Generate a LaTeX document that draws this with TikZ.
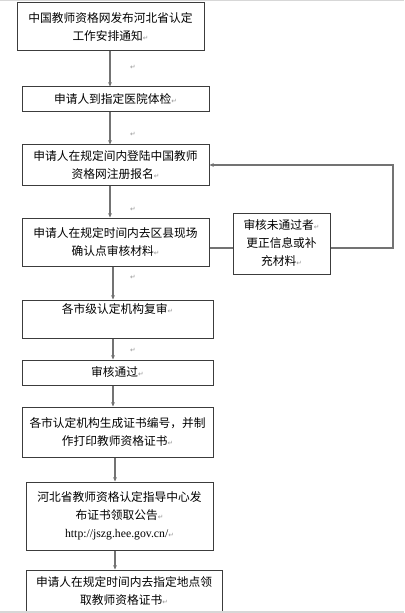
\documentclass[tikz,border=0pt]{standalone}
\usepackage{fontspec}
\setmainfont{Noto Sans CJK SC}
\newfontfamily\urlfont{Liberation Serif}
\newfontfamily\markfont{DejaVu Sans}
\usetikzlibrary{positioning, arrows.meta}
\definecolor{boxgray}  {RGB}{60, 60, 60}
\definecolor{linegray} {RGB}{115, 115, 115}
\definecolor{markgray} {RGB}{150, 150, 150}
\definecolor{edgegray} {RGB}{215, 215, 215}
% Word paragraph mark
\newcommand{\pmark}{{\markfont\fontsize{5pt}{6pt}\selectfont\textcolor{markgray}{↵}}}
\tikzset{
  % Flow step box
  stepbox/.style={
    rectangle, draw=boxgray, line width=0.75pt, inner sep=0pt,
    font=\fontsize{8.8pt}{13.5pt}\selectfont, align=center, text=black
  },
  % Arrow style
  arr/.style={-{Stealth[length=3.2pt, width=2.8pt]}, line width=0.8pt, color=linegray},
  link/.style={line width=0.8pt, color=linegray},
  markbox/.style={inner sep=0pt},
}
\begin{document}
\begin{tikzpicture}[x=0.75pt, y=-0.75pt]
  \useasboundingbox (0,0) rectangle (404,613);
  \fill[white] (0,0) rectangle (404,613);
  % main column
  \node[stepbox, minimum width=140.25pt, minimum height=36pt] (notice) at (110.5,27)
    {中国教师资格网发布河北省认定\\工作安排通知\pmark};
  \node[stepbox, minimum width=140.25pt, minimum height=18.75pt] (exam) at (115.5,99.5)
    {申请人到指定医院体检\pmark};
  \node[stepbox, minimum width=140.25pt, minimum height=30pt] (signup) at (115.5,165)
    {申请人在规定间内登陆中国教师\\资格网注册报名\pmark};
  \node[stepbox, minimum width=140.25pt, minimum height=36pt] (confirm) at (115.5,242)
    {申请人在规定时间内去区县现场\\确认点审核材料\pmark};
  \node[stepbox, minimum width=72.75pt, minimum height=45.75pt] (redo) at (281.5,243.5)
    {审核未通过者\pmark\\更正信息或补\\充材料\pmark};
  \node[stepbox, minimum width=143.25pt, minimum height=28.5pt] (review) at (117.5,319)
    {各市级认定机构复审\pmark\\[2pt]};
  \node[stepbox, minimum width=143.25pt, minimum height=18.75pt] (pass) at (117.5,372.5)
    {审核通过\pmark};
  \node[stepbox, minimum width=143.25pt, minimum height=37.5pt] (print) at (117.5,432)
    {各市认定机构生成证书编号，并制\\作打印教师资格证书\pmark};
  \node[stepbox, minimum width=140.25pt, minimum height=51pt] (notify) at (119.5,516)
    {河北省教师资格认定指导中心发\\布证书领取公告\pmark\\
     {\urlfont\fontsize{8.8pt}{11pt}\selectfont http://jszg.hee.gov.cn/}\pmark};
  \node[stepbox, minimum width=147pt, minimum height=32.25pt] (collect) at (124,591.5)
    {申请人在规定时间内去指定地点领\\取教师资格证书\pmark};
  % stray paragraph marks
  \node[markbox] (m1) at (133,67)  {\pmark};
  \node[markbox] (m2) at (133,134) {\pmark};
  \node[markbox] (m3) at (133,209) {\pmark};
  \node[markbox] (m4) at (133,277) {\pmark};
  \node[markbox] (m5) at (133,350) {\pmark};
  % arrows
  \draw[arr] (110,51)  -- (exam.north -| 110,0);
  \draw[arr] (exam.south -| 110,0)    -- (signup.north -| 110,0);
  \draw[arr] (signup.south -| 110,0)  -- (confirm.north -| 110,0);
  \draw[arr] (confirm.south -| 113,0) -- (review.north -| 113,0);
  \draw[arr] (review.south -| 113,0)  -- (pass.north -| 113,0);
  \draw[arr] (pass.south -| 113,0)    -- (print.north -| 113,0);
  \draw[arr] (print.south -| 115,0)   -- (notify.north -| 115,0);
  \draw[arr] (notify.south -| 115,0)  -- (collect.north -| 115,0);
  % feedback loop
  \coordinate (turn) at (393,248);
  \draw[link] (confirm.east |- turn) -- (redo.west |- turn);
  \draw[arr] (redo.east |- turn) -- (turn) |- (signup.east);
  % page edges
  \fill[edgegray] (0,0) rectangle (404,1.2);
  \fill[edgegray] (0,611) rectangle (404,613);
\end{tikzpicture}
\end{document}
